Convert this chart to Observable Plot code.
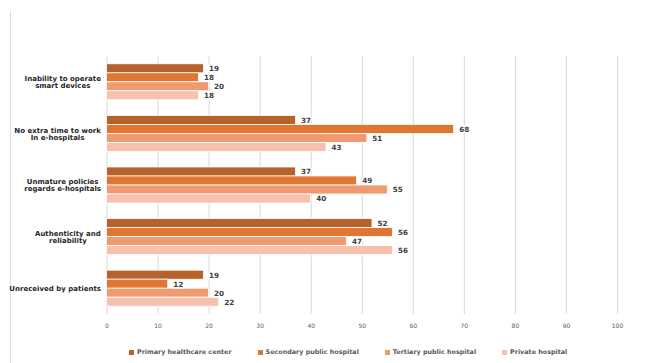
<!DOCTYPE html>
<html>
<head>
<meta charset="utf-8">
<script src="https://cdn.jsdelivr.net/npm/d3@7"></script>
<script src="https://cdn.jsdelivr.net/npm/@observablehq/plot@0.6"></script>
<style>
  html, body { margin: 0; padding: 0; background: #fff; }
  body { width: 656px; height: 363px; position: relative; overflow: hidden; font-family: "DejaVu Sans", Verdana, sans-serif; }
  #border { position: absolute; left: 10px; top: 11px; height: 352px; border-left: 1px solid #dcdcdc; }
  #chart { position: absolute; left: 0; top: 0; }
  #legend { position: absolute; left: 0; top: 348px; width: 656px; display: flex; gap: 26px; padding-left: 129px; box-sizing: border-box;
    font-size: 6.4px; font-weight: bold; color: #595959; align-items: center; }
  .item { display: flex; align-items: center; gap: 3px; white-space: nowrap; }
  .sw { width: 5px; height: 5px; display: inline-block; }
</style>
</head>
<body>
<div id="border"></div>
<div id="chart"></div>
<div id="legend"></div>
<script>
const categories = [
  "Inability to operate\nsmart devices",
  "No extra time to work\nIn e-hospitals",
  "Unmature policies\nregards e-hospitals",
  "Authenticity and\nreliability",
  "Unreceived by patients"
];
const series = ["Primary healthcare center", "Secondary public hospital", "Tertiary public hospital", "Private hospital"];
const primaryValues   = [19, 37, 37, 52, 19];
const secondaryValues = [18, 68, 49, 56, 12];
const tertiaryValues  = [20, 51, 55, 47, 20];
const privateValues   = [18, 43, 40, 56, 22];
const xTicks = [0, 10, 20, 30, 40, 50, 60, 70, 80, 90, 100];
const colors = ["#b9612a", "#e07632", "#f09a70", "#f6c1ad"];

const valuesBySeries = [primaryValues, secondaryValues, tertiaryValues, privateValues];
const data = [];
categories.forEach((c, i) => {
  series.forEach((s, j) => {
    data.push({category: c, series: s, value: valuesBySeries[j][i]});
  });
});

const chart = Plot.plot({
  width: 656,
  height: 340,
  marginTop: 56,
  marginBottom: 26,
  marginLeft: 106.5,
  marginRight: 39,
  style: {fontFamily: "'DejaVu Sans', Verdana, sans-serif", background: "transparent"},
  x: {domain: [0, 100], ticks: xTicks, grid: true, label: null, tickSize: 0, tickPadding: 9},
  fy: {domain: categories, padding: 0, label: null, axis: "left", tickSize: 0, tickPadding: 6, round: false},
  y: {domain: series, paddingInner: 0, paddingOuter: 0.865, axis: null, round: false},
  color: {domain: series, range: colors},
  marks: [
    Plot.barX(data, {x: "value", y: "series", fy: "category", fill: "series", stroke: "white", strokeWidth: 0.8}),
    Plot.text(data, {x: "value", y: "series", fy: "category", text: d => String(d.value), dx: 5, textAnchor: "start",
      fill: "#404040", fontWeight: "bold", fontSize: 7.2, stroke: "white", strokeWidth: 3, paintOrder: "stroke"})
  ]
});
document.getElementById("chart").appendChild(chart);

chart.querySelectorAll("g[aria-label='x-axis tick label'] text, g[aria-label='x-axis'] text").forEach(t => {
  t.style.fontSize = "6px"; t.style.fill = "#595959";
});
chart.querySelectorAll("g[aria-label='x-grid'] line, g[aria-label='x-grid'], g[aria-label='x-axis'] .tick line").forEach(l => {
  l.setAttribute("stroke", "#d9d9d9"); l.setAttribute("stroke-opacity", "1");
});
const fyTexts = chart.querySelectorAll("g[aria-label='fy-axis tick label'] text, g[aria-label='fy-axis'] text");
fyTexts.forEach(t => {
  t.style.fontSize = "7px"; t.style.fontWeight = "bold"; t.style.fill = "#262626";
});
// center multi-line category labels within their right-aligned block
fyTexts.forEach(t => {
  const tspans = t.querySelectorAll("tspan");
  if (tspans.length > 1) {
    const w = t.getBBox().width;
    t.setAttribute("text-anchor", "middle");
    tspans.forEach(ts => ts.setAttribute("x", String(-w / 2)));
  }
});

const legend = document.getElementById("legend");
series.forEach((s, i) => {
  const item = document.createElement("div");
  item.className = "item";
  const sw = document.createElement("span");
  sw.className = "sw";
  sw.style.background = colors[i];
  const label = document.createElement("span");
  label.textContent = s;
  item.appendChild(sw);
  item.appendChild(label);
  legend.appendChild(item);
});
</script>
</body>
</html>
